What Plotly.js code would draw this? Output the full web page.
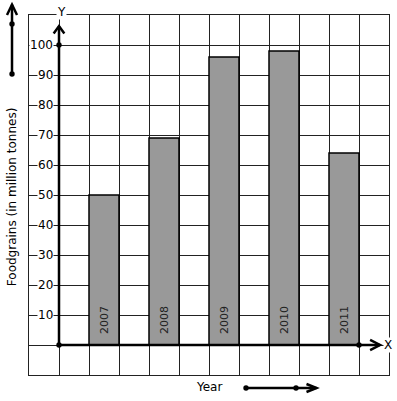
<!DOCTYPE html>
<html><head><meta charset="utf-8">
<script src="https://cdn.plot.ly/plotly-3.0.1.min.js"></script>
<style>html,body{margin:0;padding:0;background:#fff;}#chart{width:397px;height:401px;}</style>
</head><body><div id="chart"></div>
<script>
var years = ["2007", "2008", "2009", "2010", "2011"];
var barPositions = [1.5, 3.5, 5.5, 7.5, 9.5];
var foodgrains = [50, 69, 96, 98, 64];
var yTickValues = [100, 90, 80, 70, 60, 50, 40, 30, 20, 10];
var yTickLabels = ["100", "90", "80", "70", "60", "50", "40", "30", "20", "10"];

var font = "DejaVu Sans, Verdana, sans-serif";

var bars = {
  type: "bar", x: barPositions, y: foodgrains, width: 1,
  marker: {color: "#999999", line: {color: "#000", width: 1.5}},
  hoverinfo: "skip", showlegend: false
};

var annotations = [];
for (var i = 0; i < yTickValues.length; i++) {
  annotations.push({x: 0, y: yTickValues[i], xref: "x", yref: "y", text: yTickLabels[i],
    showarrow: false, xanchor: "right", yanchor: "middle", xshift: -5,
    bgcolor: "#fff", borderpad: 0, font: {family: font, size: 12, color: "#000"}});
}
for (var j = 0; j < years.length; j++) {
  annotations.push({x: barPositions[j], y: 0, xref: "x", yref: "y", text: years[j],
    showarrow: false, textangle: -90, xanchor: "center", yanchor: "bottom", yshift: 9,
    font: {family: font, size: 11, color: "#222"}});
}
annotations.push({x: 0.997, y: 0.0833, xref: "paper", yref: "paper", text: "X", showarrow: false,
  xanchor: "center", yanchor: "middle", bgcolor: "#fff", borderpad: 0, font: {family: font, size: 12, color: "#000"}});
annotations.push({x: 0.0889, y: 1.0083, xref: "paper", yref: "paper", text: "Y", showarrow: false,
  xanchor: "center", yanchor: "middle", bgcolor: "#fff", borderpad: 0, font: {family: font, size: 12, color: "#000"}});
annotations.push({x: -0.0472, y: 0.494, xref: "paper", yref: "paper", text: "Foodgrains (in million tonnes)",
  showarrow: false, textangle: -90, xanchor: "center", yanchor: "middle", font: {family: font, size: 12, color: "#000"}});
annotations.push({x: 0.5, y: -0.0333, xref: "paper", yref: "paper", text: "Year",
  showarrow: false, xanchor: "center", yanchor: "middle", font: {family: font, size: 12, color: "#000"}});

var axisLine = {color: "#000", width: 2.5};
function dotData(x, y) {
  return {type: "circle", xref: "x", yref: "y", x0: x - 0.09, x1: x + 0.09, y0: y - 0.9, y1: y + 0.9,
    fillcolor: "#000", line: {width: 0}};
}
function dotPaper(x, y) {
  var r = 0.0075;
  return {type: "circle", xref: "paper", yref: "paper", x0: x - r, x1: x + r, y0: y - r, y1: y + r,
    fillcolor: "#000", line: {width: 0}};
}
var shapes = [
  {type: "line", xref: "x", yref: "y", x0: 0, y0: 0, x1: 0, y1: 106.3, line: axisLine},
  {type: "path", xref: "x", yref: "y", path: "M -0.178 103.8 L 0 106.3 L 0.178 103.8", line: axisLine},
  {type: "line", xref: "x", yref: "y", x0: 0, y0: 0, x1: 10.7, y1: 0, line: axisLine},
  {type: "path", xref: "x", yref: "y", path: "M 10.37 1.67 L 10.7 0 L 10.37 -1.67", line: axisLine},
  dotData(0, 100), dotData(0, 0), dotData(10, 0),
  {type: "line", xref: "paper", yref: "paper", x0: -0.0472, y0: 0.836, x1: -0.0472, y1: 1.029, line: axisLine},
  {type: "path", xref: "paper", yref: "paper", path: "M -0.0611 1.0 L -0.0472 1.029 L -0.0333 1.0", line: axisLine},
  dotPaper(-0.0472, 0.975), dotPaper(-0.0472, 0.836),
  {type: "line", xref: "paper", yref: "paper", x0: 0.6028, y0: -0.0361, x1: 0.7986, y1: -0.0361, line: axisLine},
  {type: "path", xref: "paper", yref: "paper", path: "M 0.7708 -0.0250 L 0.7986 -0.0361 L 0.7708 -0.0472", line: axisLine},
  dotPaper(0.6028, -0.0361), dotPaper(0.7417, -0.0361)
];

var layout = {
  width: 397, height: 401,
  margin: {l: 29, r: 8, t: 15, b: 26, pad: 0},
  paper_bgcolor: "#fff", plot_bgcolor: "#fff",
  showlegend: false,
  xaxis: {range: [-1, 11], tick0: 0, dtick: 1, showgrid: true, gridcolor: "#222", gridwidth: 1,
    zeroline: false, showticklabels: false, ticks: "", showline: true, mirror: true, linecolor: "#222", linewidth: 1, fixedrange: true},
  yaxis: {range: [-10, 110], tick0: 0, dtick: 10, showgrid: true, gridcolor: "#222", gridwidth: 1,
    zeroline: false, showticklabels: false, ticks: "", showline: true, mirror: true, linecolor: "#222", linewidth: 1, fixedrange: true},
  annotations: annotations,
  shapes: shapes
};
Plotly.newPlot("chart", [bars], layout, {displayModeBar: false, staticPlot: true});
</script></body></html>
